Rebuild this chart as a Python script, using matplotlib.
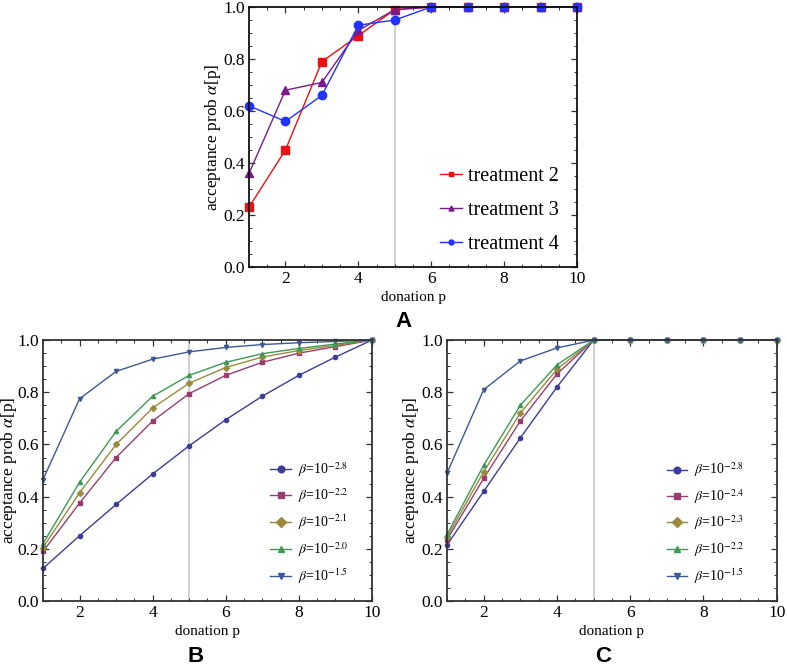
import numpy as np
import matplotlib.pyplot as plt
from matplotlib.ticker import MultipleLocator

plt.rcParams['font.family'] = ['Liberation Serif', 'DejaVu Serif']
plt.rcParams['mathtext.fontset'] = 'stix'

# 数据
p = [1, 2, 3, 4, 5, 6, 7, 8, 9, 10]

# A: 实验数据
treat2 = [0.23, 0.45, 0.79, 0.89, 0.99, 1.0, 1.0, 1.0, 1.0, 1.0]
treat3 = [0.36, 0.68, 0.71, 0.91, 0.99, 1.0, 1.0, 1.0, 1.0, 1.0]
treat4 = [0.62, 0.56, 0.66, 0.93, 0.95, 1.0, 1.0, 1.0, 1.0, 1.0]
labels_a = ['treatment 2', 'treatment 3', 'treatment 4']

# B: 模型
b_28 = [0.125, 0.25, 0.37, 0.487, 0.595, 0.695, 0.785, 0.865, 0.935, 1.0]
b_22 = [0.19, 0.375, 0.55, 0.69, 0.795, 0.865, 0.915, 0.95, 0.975, 1.0]
b_21 = [0.205, 0.415, 0.60, 0.74, 0.835, 0.895, 0.935, 0.96, 0.98, 1.0]
b_20 = [0.22, 0.455, 0.65, 0.785, 0.865, 0.915, 0.948, 0.968, 0.985, 1.0]
b_15 = [0.465, 0.775, 0.88, 0.927, 0.955, 0.972, 0.983, 0.99, 0.995, 1.0]
labels_b = ['-2.8', '-2.2', '-2.1', '-2.0', '-1.5']

# C: 模型
c_28 = [0.215, 0.42, 0.625, 0.82, 1.0, 1.0, 1.0, 1.0, 1.0, 1.0]
c_24 = [0.235, 0.47, 0.69, 0.87, 1.0, 1.0, 1.0, 1.0, 1.0, 1.0]
c_23 = [0.245, 0.495, 0.72, 0.888, 1.0, 1.0, 1.0, 1.0, 1.0, 1.0]
c_22 = [0.255, 0.52, 0.75, 0.905, 1.0, 1.0, 1.0, 1.0, 1.0, 1.0]
c_15 = [0.49, 0.81, 0.92, 0.97, 1.0, 1.0, 1.0, 1.0, 1.0, 1.0]
labels_c = ['-2.8', '-2.4', '-2.3', '-2.2', '-1.5']

# Mathematica 默认配色
mma_colors = [(0.24, 0.24, 0.6), (0.6, 0.24, 0.4428), (0.6, 0.547, 0.24),
              (0.24, 0.6, 0.337), (0.24, 0.347, 0.6)]
mma_markers = ['o', 's', 'D', '^', 'v']


def style_axes(ax, frame='#333333', ylab_x=-0.08):
    ax.set_xlim(1, 10)
    ax.set_ylim(0, 1.0)
    ax.xaxis.set_major_locator(MultipleLocator(2))
    ax.xaxis.set_minor_locator(MultipleLocator(0.5))
    ax.yaxis.set_major_locator(MultipleLocator(0.2))
    ax.yaxis.set_minor_locator(MultipleLocator(0.05))
    ax.yaxis.set_major_formatter(plt.FuncFormatter(lambda v, _: '%.1f' % v))
    ax.tick_params(which='both', direction='in', top=True, right=True,
                   labelsize=12.5, color='#333333', pad=3)
    ax.tick_params(which='major', length=4.5, width=0.9)
    ax.tick_params(which='minor', length=2.2, width=0.7)
    for s in ax.spines.values():
        s.set_color(frame)
        s.set_linewidth(1.3)
    ax.axvline(5, color='#c4c4c4', lw=1.1, zorder=0)
    ax.set_xlabel('donation p', fontsize=11, labelpad=3)
    ax.set_ylabel(r'acceptance prob $\alpha$[p]', fontsize=12.5)
    ax.yaxis.set_label_coords(ylab_x, 0.5)


fig = plt.figure(figsize=(7.87, 6.69), dpi=100)

# 图 A
axA = fig.add_axes([0.3164, 0.6009, 0.4168, 0.3886])
for ys, c, m, lab in zip([treat2, treat3, treat4], ['#ee1111', '#7a1a8a', '#2233ff'],
                         ['s', '^', 'o'], labels_a):
    axA.plot(p, ys, color=c, marker=m, ms=6, lw=1.0, label=lab, clip_on=False)
style_axes(axA, frame='#111111')
axA.legend(loc='lower right', frameon=False, fontsize=14.5, markerscale=0.6,
           handlelength=1.1, handletextpad=0.3, labelspacing=0.75,
           bbox_to_anchor=(1.0, -0.02))

# 图 B
axB = fig.add_axes([0.0546, 0.1016, 0.418, 0.390])
for ys, c, m, e in zip([b_28, b_22, b_21, b_20, b_15], mma_colors, mma_markers, labels_b):
    axB.plot(p, ys, color=c, marker=m, ms=3, lw=1.0, clip_on=False,
             label=r'$\beta$=10$^{%s}$' % e.replace('-', '\u2212'))
style_axes(axB, ylab_x=-0.073)
axB.legend(loc='lower right', frameon=False, fontsize=10, markerscale=1.6,
           handlelength=1.5, handletextpad=0.5, labelspacing=0.55,
           bbox_to_anchor=(0.965, 0.01))

# 图 C
axC = fig.add_axes([0.568, 0.1016, 0.419, 0.390])
for ys, c, m, e in zip([c_28, c_24, c_23, c_22, c_15], mma_colors, mma_markers, labels_c):
    axC.plot(p, ys, color=c, marker=m, ms=3, lw=1.0, clip_on=False,
             label=r'$\beta$=10$^{%s}$' % e.replace('-', '\u2212'))
style_axes(axC)
axC.legend(loc='lower right', frameon=False, fontsize=10, markerscale=1.6,
           handlelength=1.5, handletextpad=0.5, labelspacing=0.55,
           bbox_to_anchor=(0.94, 0.01))

# 面板字母
fig.text(403 / 787, 1 - 321 / 669, 'A', fontsize=16, fontweight='bold',
         family='Liberation Sans', ha='center', va='center')
fig.text(196 / 787, 1 - 667 / 669, 'B', fontsize=16, fontweight='bold',
         family='Liberation Sans', ha='center', va='bottom')
fig.text(603 / 787, 1 - 667 / 669, 'C', fontsize=16, fontweight='bold',
         family='Liberation Sans', ha='center', va='bottom')

plt.savefig('out.png', dpi=100)
